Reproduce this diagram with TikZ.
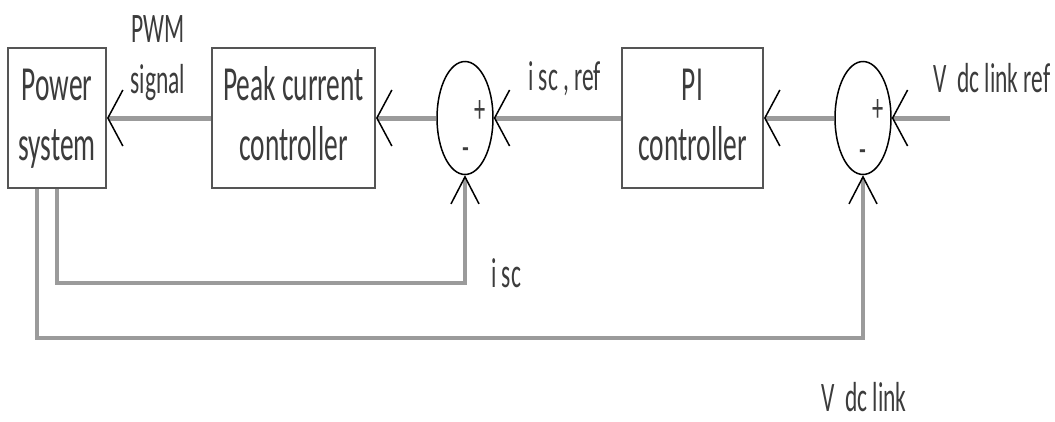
\documentclass[tikz,border=0pt]{standalone}
\usepackage{fontspec}
\setmainfont{Carlito}
\usepackage{graphicx}
\usetikzlibrary{arrows.meta,shapes.geometric}
\definecolor{wiregray}{RGB}{155,155,155}
\definecolor{edgegray}{RGB}{85,85,85}
\definecolor{inkgray}{RGB}{60,60,60}
\newcommand{\sq}[1]{\scalebox{0.56}[1]{\begin{tabular}[b]{@{}c@{}}#1\end{tabular}}}

\begin{document}
\begin{tikzpicture}[x=1pt, y=-1pt,
    >={Straight Barb[length=15pt,width=56pt,line width=1.5pt,color=black]},
    blk/.style={draw=edgegray, line width=2pt, minimum height=140pt, inner sep=0pt, text=inkgray, font=\fontsize{49pt}{60pt}\selectfont},
    sumnode/.style={ellipse, draw, line width=1.5pt, minimum width=56pt, minimum height=113pt, inner sep=0pt},
    lbl/.style={inner sep=0pt, text=inkgray, font=\fontsize{42pt}{51pt}\selectfont},
    sgn/.style={inner sep=0pt, text=inkgray, font=\fontsize{40pt}{44pt}\selectfont},
    wire/.style={draw=wiregray, line width=5pt},
    fb/.style={draw=wiregray, line width=4pt, -{Straight Barb[length=27pt,width=28pt,line width=1.5pt,color=black]}}]
    \useasboundingbox (0,0) rectangle (1055,421);
    \node[blk, minimum width=98pt] (pwr) at (57,118) {\sq{Power\\system}};
    \node[blk, minimum width=163pt] (peak) at (293.5,118) {\sq{Peak current\\controller}};
    \node[blk, minimum width=141pt] (pi) at (692.5,118) {\sq{PI\\controller}};
    \node[sumnode] (sum1) at (465,118) {};
    \node[sumnode] (sum2) at (863,118) {};
    \node[sgn] (plus1) at (480,114) {\sq{+}};
    \node[sgn] (minus1) at (466,152) {\sq{-}};
    \node[sgn] (plus2) at (878,113) {\sq{+}};
    \node[sgn] (minus2) at (863,154) {\sq{-}};
    \node[lbl, anchor=base] (pwm) at (158,93) {\sq{PWM\\signal}};
    \node[lbl, anchor=base west] (iscref) at (528,90) {\sq{i sc , ref}};
    \node[lbl, anchor=base west] (vdcref) at (933,92) {\sq{V~~dc link ref}};
    \node[lbl, anchor=base west] (isc) at (491,287) {\sq{i sc}};
    \node[lbl, anchor=base west] (vdc) at (821,411) {\sq{V~~dc link}};
    \coordinate (vin) at (950,118);
    \draw[wire, ->] (vin) -- (sum2.east);
    \draw[wire, ->] (sum2.west) -- (pi.east);
    \draw[wire, ->] (pi.west) -- (sum1.east);
    \draw[wire, ->] (sum1.west) -- (peak.east);
    \draw[wire, ->] (peak.west) -- (pwr.east);
    \draw[fb] (pwr.south) -- ++(0,94) -| (sum1.south);
    \draw[fb] ([xshift=-20pt]pwr.south) -- ++(0,149) -| (sum2.south);
\end{tikzpicture}
\end{document}
